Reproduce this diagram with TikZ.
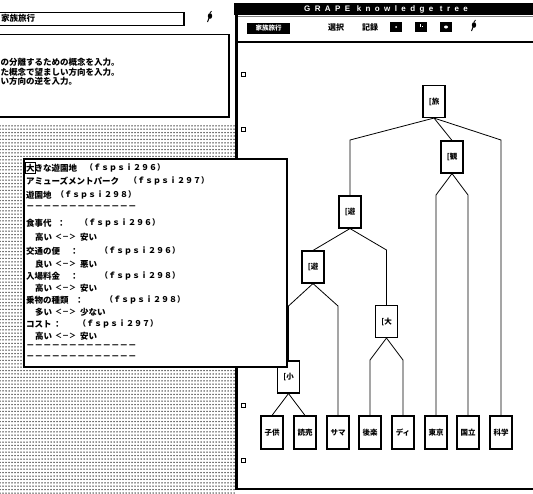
\documentclass[tikz,border=0pt]{standalone}
\usepackage{fontspec}
\newfontfamily\jp{Noto Sans CJK JP}
\newfontfamily\ttl[LetterSpace=55]{Liberation Sans}
\usetikzlibrary{patterns}
\pgfdeclarepatternformonly{deskdots}{\pgfqpoint{-1pt}{-1pt}}{\pgfqpoint{2pt}{2pt}}{\pgfqpoint{3pt}{3.4pt}}{%
  \pgfpathcircle{\pgfqpoint{0pt}{0pt}}{0.75pt}\pgfusepath{fill}}
\begin{document}
\begin{tikzpicture}[x=1pt,y=-1pt,
  jp/.style={font=\jp\bfseries\fontsize{8.5}{9}\selectfont, inner sep=0pt, anchor=west},
  fs/.style={font=\jp\bfseries\fontsize{8}{9}\selectfont, inner sep=0pt, anchor=west},
  arr/.style={font=\jp\bfseries\fontsize{7}{8}\selectfont, inner sep=0pt, anchor=west},
  tn/.style={draw, line width=1.1pt, fill=white, minimum width=22pt, minimum height=32pt, inner sep=0pt, font=\jp\bfseries\fontsize{7.5}{8}\selectfont},
  lf/.style={tn, minimum height=33pt},
  edge/.style={line width=0.8pt},
  hole/.style={draw, line width=0.8pt, minimum size=4pt, inner sep=0pt},
  blkbtn/.style={fill=black, minimum width=12pt, minimum height=10pt, inner sep=0pt},
]
\useasboundingbox (0,0) rectangle (533,493);
\clip (0,0) rectangle (533,493);
\fill[white] (0,0) rectangle (533,493);

% dotted desktop
\fill[pattern=deskdots, pattern color=black!85] (0,125) rectangle (235,493);

% top field
\draw[line width=0.8pt] (-2,12) rectangle (184,25);
\draw[line width=1.6pt] (184,12) -- (184,25);
\node[jp] (fld) at (1,18.5) {家族旅行};
% icon
\fill (210,16) ellipse (2.2 and 2.8);
\draw[line width=1pt] (209,18) -- (207.5,22);
\draw[line width=0.8pt] (210,13) -- (211.5,11);

% left message panel
\draw[line width=1pt] (-2,34) rectangle (229,117);
\draw[line width=2pt] (229,34) -- (229,117) -- (-2,117);
\node[jp] (m1) at (0.5,62) {の分離するための概念を入力。};
\node[jp] (m2) at (0.5,72) {た概念で望ましい方向を入力。};
\node[jp] (m3) at (0.5,81) {い方向の逆を入力。};

% right window
\fill[black] (234,3) rectangle (533,15);
\node[font=\ttl\bfseries\fontsize{8}{9}\selectfont, text=white, inner sep=0pt] (title) at (386,9) {GRAPE knowledge tree};
\draw[line width=0.5pt, gray] (237,16.5) -- (533,16.5);
\draw[line width=1.5pt] (237,42) -- (533,42);
\draw[line width=3pt] (236,3) -- (236,490);
\draw[line width=2.5pt] (235,489) -- (533,489);

% toolbar
\node[fill=black, text=white, minimum width=43pt, minimum height=11pt, inner sep=0pt, font=\jp\bfseries\fontsize{6.5}{7}\selectfont] (bfam) at (268.5,28) {家族旅行};
\node[font=\jp\bfseries\fontsize{8}{9}\selectfont, inner sep=0pt] (sel) at (336,27) {選択};
\node[font=\jp\bfseries\fontsize{8}{9}\selectfont, inner sep=0pt] (rec) at (370,27) {記録};
\node[blkbtn] (b1) at (396,27) {};
\node[blkbtn] (b2) at (421,27) {};
\node[blkbtn] (b3) at (446,27) {};
\fill[white] (b1.center) circle (1);
\fill[white] ([xshift=-1.5pt]b2.center) rectangle ([xshift=-0.5pt,yshift=3pt]b2.center);
\fill[white] ([xshift=1pt]b2.center) rectangle ([xshift=2pt,yshift=1.5pt]b2.center);
\fill[white] (b3.center) ellipse (2 and 1.5);
\fill (474,25) ellipse (2.2 and 2.8);
\draw[line width=1pt] (473,27) -- (471.5,31);
\draw[line width=0.8pt] (474,22) -- (475.5,20);

% holes
\node[hole] (h1) at (243,74) {};
\node[hole] (h2) at (243,129) {};
\node[hole] (h3) at (243,405) {};
\node[hole] (h4) at (243,460) {};

% tree nodes
\node[tn] (root) at (434,101.5) {[旅};
\node[tn] (kan) at (452,157) {[観};
\node[tn] (uy) at (350,212) {[遊};
\node[tn] (ly) at (313,267) {[遊};
\node[tn] (dai) at (386.5,321.5) {[大};
\node[tn] (sho) at (288.5,377) {[小};
\node[lf] (kodomo) at (272,432.5) {子供};
\node[lf] (yomi) at (305,432.5) {読売};
\node[lf] (sama) at (338,432.5) {サマ};
\node[lf] (kora) at (370,432.5) {後楽};
\node[lf] (di) at (403,432.5) {ディ};
\node[lf] (tokyo) at (436,432.5) {東京};
\node[lf] (koku) at (468,432.5) {国立};
\node[lf] (kaga) at (501,432.5) {科学};

\coordinate (j1) at (350,140);
\coordinate (j2) at (501,140);
\coordinate (j3) at (436,195);
\coordinate (j4) at (468,195);
\coordinate (j5) at (386.5,250);
\coordinate (j6) at (370,360);
\coordinate (j7) at (403,360);
\coordinate (j8) at (288.5,306);
\coordinate (j9) at (338,306);

\draw[edge] (root.south) -- (j1) -- (uy.north);
\draw[edge] (root.south) -- (kan.north);
\draw[edge] (root.south) -- (j2) -- (kaga.north);
\draw[edge] (kan.south) -- (j3) -- (tokyo.north);
\draw[edge] (kan.south) -- (j4) -- (koku.north);
\draw[edge] (uy.south) -- (ly.north);
\draw[edge] (uy.south) -- (j5) -- (dai.north);
\draw[edge] (dai.south) -- (j6) -- (kora.north);
\draw[edge] (dai.south) -- (j7) -- (di.north);
\draw[edge] (ly.south) -- (j8) -- (sho.north);
\draw[edge] (ly.south) -- (j9) -- (sama.north);
\draw[edge] (sho.south) -- (kodomo.north);
\draw[edge] (sho.south) -- (yomi.north);

% popup
\draw[fill=white, line width=1.5pt] (24,159) rectangle (287,367);
\draw[line width=2.5pt] (287,159) -- (287,367) -- (24,367);

\node[jp] (p1a) at (26,168) {大きな遊園地};
\draw[line width=0.8pt] (25.5,162.5) rectangle (35,173.5);
\node[fs] (p1b) at (85,168) {（ｆｓｐｓｉ２９６）};
\node[jp] (p2a) at (26,181) {アミューズメントパーク};
\node[fs] (p2b) at (129,181) {（ｆｓｐｓｉ２９７）};
\node[jp] (p3a) at (26,195) {遊園地};
\node[fs] (p3b) at (56,195) {（ｆｓｐｓｉ２９８）};
\node[jp] (p4) at (26,208) {－－－－－－－－－－－－－};

\node[jp] (p5a) at (26,223) {食事代};
\node[jp] (p5b) at (57,223) {：};
\node[fs] (p5c) at (80,223) {（ｆｓｐｓｉ２９６）};
\node[jp] (p6a) at (35,237) {高い};
\node[arr] (p6b) at (55,237) {＜－＞};
\node[jp] (p6c) at (80,237) {安い};

\node[jp] (p7a) at (26,251) {交通の便};
\node[jp] (p7b) at (70,251) {：};
\node[fs] (p7c) at (100,251) {（ｆｓｐｓｉ２９６）};
\node[jp] (p8a) at (35,264) {良い};
\node[arr] (p8b) at (55,264) {＜－＞};
\node[jp] (p8c) at (80,264) {悪い};

\node[jp] (p9a) at (26,276) {入場料金};
\node[jp] (p9b) at (70,276) {：};
\node[fs] (p9c) at (100,276) {（ｆｓｐｓｉ２９８）};
\node[jp] (p10a) at (35,288) {高い};
\node[arr] (p10b) at (55,288) {＜－＞};
\node[jp] (p10c) at (80,288) {安い};

\node[jp] (p11a) at (26,300) {乗物の種類};
\node[jp] (p11b) at (75,300) {：};
\node[fs] (p11c) at (105,300) {（ｆｓｐｓｉ２９８）};
\node[jp] (p12a) at (35,312) {多い};
\node[arr] (p12b) at (55,312) {＜－＞};
\node[jp] (p12c) at (80,312) {少ない};

\node[jp] (p13a) at (26,324) {コスト};
\node[jp] (p13b) at (53,324) {：};
\node[fs] (p13c) at (78,324) {（ｆｓｐｓｉ２９７）};
\node[jp] (p14a) at (35,336) {高い};
\node[arr] (p14b) at (55,336) {＜－＞};
\node[jp] (p14c) at (80,336) {安い};
\node[jp] (p15) at (26,347) {－－－－－－－－－－－－－};
\node[jp] (p16) at (26,358) {－－－－－－－－－－－－－};
\end{tikzpicture}
\end{document}
